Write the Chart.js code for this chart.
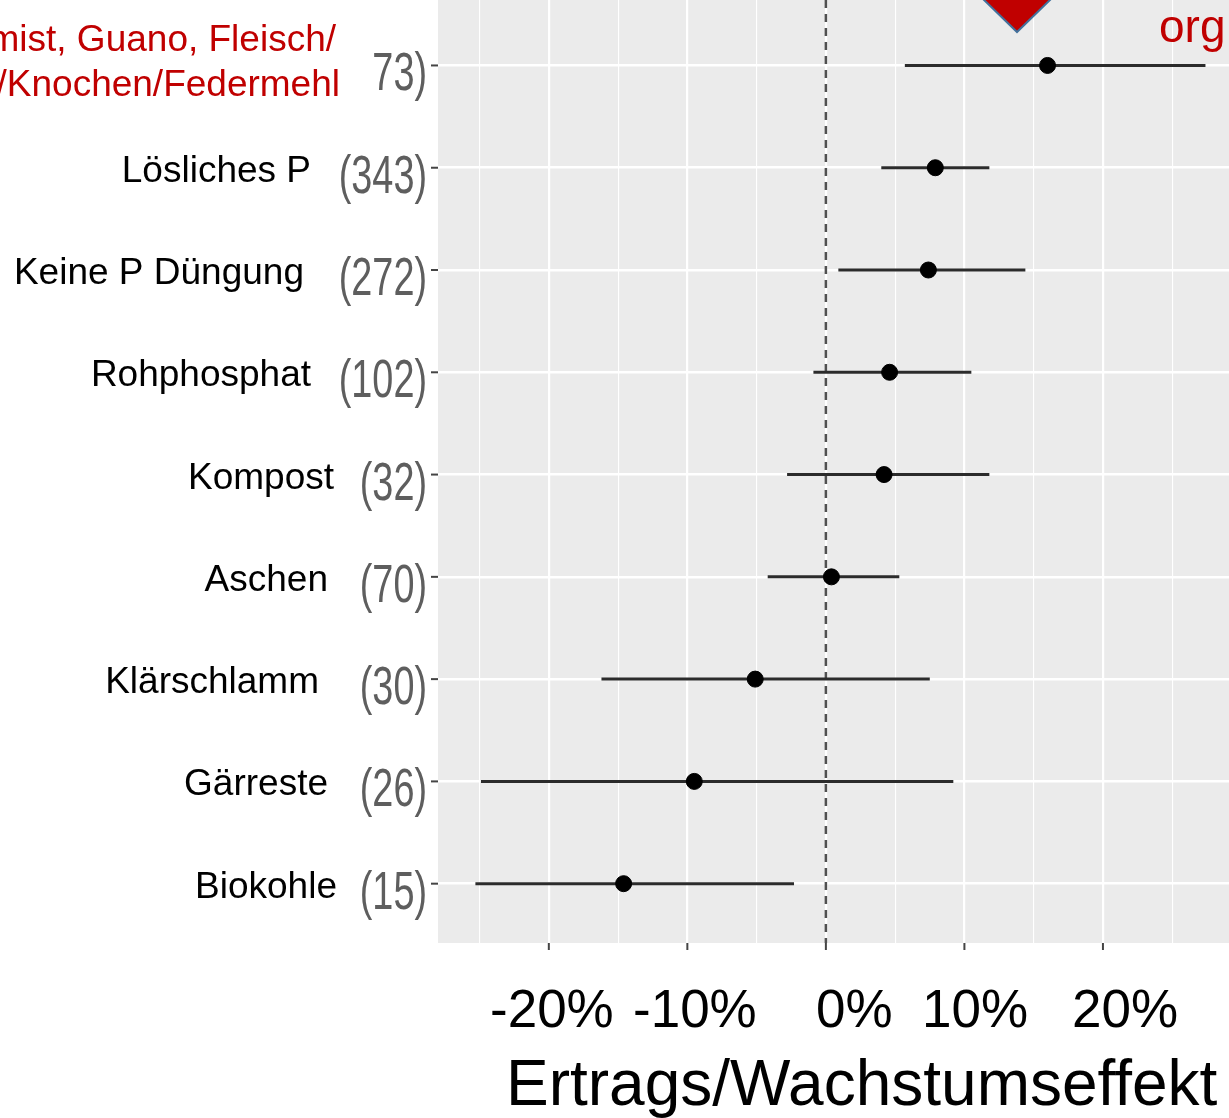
<!DOCTYPE html>
<html>
<head>
<meta charset="utf-8">
<script src="https://cdn.jsdelivr.net/npm/chart.js@4"></script>
<style>
    html, body { margin: 0; padding: 0; background: #fff; }
    #wrap { width: 1229px; height: 1118px; }
</style>
</head>
<body>
<div id="wrap"><canvas id="forest" width="1229" height="1118"></canvas></div>
<script>
// data (effect in %)
const categories = [['mist, Guano, Fleisch/', '/Knochen/Federmehl'], 'Lösliches P', 'Keine P Düngung', 'Rohphosphat', 'Kompost', 'Aschen', 'Klärschlamm', 'Gärreste', 'Biokohle'];
const counts = ['73)', '(343)', '(272)', '(102)', '(32)', '(70)', '(30)', '(26)', '(15)'];
const effect = [16.0, 7.9, 7.4, 4.6, 4.2, 0.4, -5.1, -9.5, -14.6];
const lower = [5.7, 4.0, 0.9, -0.9, -2.8, -4.2, -16.2, -24.9, -25.3];
const upper = [27.4, 11.8, 14.4, 10.5, 11.8, 5.3, 7.5, 9.2, -2.3];
const tickLabels = ['-20%', '-10%', '0%', '10%', '20%'];

// where the overlaid texts sit (right edge of names, left edge of tick labels)
const nameRight = [338, 311, 304, 311, 334, 328, 319, 328, 337];
const tickLabelX = [490, 633, 816, 922, 1072];

const ctx = document.getElementById('forest').getContext('2d');

// CI lines, one dataset per row
const ciSets = categories.map((c, i) => ({
    type: 'line',
    data: [{ x: lower[i], y: i + 1 }, { x: upper[i], y: i + 1 }],
    borderColor: '#2b2b2b',
    borderWidth: 3,
    pointRadius: 0,
    order: 1
}));

const panelBg = {
    id: 'panelBg',
    beforeDraw(chart) {
        const a = chart.chartArea;
        const c = chart.ctx;
        c.save();
        c.fillStyle = '#ebebeb';
        c.fillRect(a.left, a.top, a.right - a.left, a.bottom - a.top);
        c.restore();
    }
};

const overlay = {
    id: 'overlay',
    afterDraw(chart) {
        const c = chart.ctx;
        const xs = chart.scales.x;
        const ys = chart.scales.y;
        const a = chart.chartArea;
        c.save();

        // axis tick marks
        c.strokeStyle = '#444';
        c.lineWidth = 2;
        [-20, -10, 0, 10, 20].forEach(v => {
            const px = xs.getPixelForValue(v);
            c.beginPath(); c.moveTo(px, a.bottom); c.lineTo(px, a.bottom + 7); c.stroke();
        });
        categories.forEach((cat, i) => {
            const py = ys.getPixelForValue(i + 1);
            c.beginPath(); c.moveTo(a.left - 7, py); c.lineTo(a.left, py); c.stroke();
        });

        // counts in grey condensed text
        c.fillStyle = '#5e5e5e';
        c.textAlign = 'right';
        c.textBaseline = 'alphabetic';
        c.font = '54px "Liberation Sans", Arial, sans-serif';
        counts.forEach((t, i) => {
            const py = ys.getPixelForValue(i + 1);
            c.save();
            c.translate(427, py + 25);
            c.scale(0.7, 1);
            c.fillText(t, 0, 0);
            c.restore();
        });

        // category names
        c.font = '37px "Liberation Sans", Arial, sans-serif';
        categories.forEach((cat, i) => {
            const py = ys.getPixelForValue(i + 1);
            if (Array.isArray(cat)) {
                c.fillStyle = '#fff';
                c.fillRect(0, 10, 360, 95);
                c.fillStyle = '#c00000';
                c.fillText(cat[0], 336, 51);
                c.fillText(cat[1], 340, 96);
            } else {
                c.fillStyle = '#000';
                c.fillText(cat, nameRight[i], py + 14);
            }
        });

        // red marker and text at the top
        c.beginPath();
        c.moveTo(982, -2);
        c.lineTo(1052, -2);
        c.lineTo(1017, 32);
        c.closePath();
        c.fillStyle = '#c00000';
        c.fill();
        c.strokeStyle = '#41719c';
        c.lineWidth = 2;
        c.stroke();
        c.fillStyle = '#c00000';
        c.textAlign = 'left';
        c.font = '46px "Liberation Sans", Arial, sans-serif';
        c.fillText('org', 1159, 42);

        // tick labels and axis title
        c.fillStyle = '#000';
        c.font = '53px "Liberation Sans", Arial, sans-serif';
        tickLabels.forEach((t, i) => c.fillText(t, tickLabelX[i], 1027));
        c.font = '64px "Liberation Sans", Arial, sans-serif';
        c.fillText('Ertrags/Wachstumseffekt', 506, 1105);

        c.restore();
    }
};

new Chart(ctx, {
    type: 'scatter',
    data: {
        datasets: [
            {
                type: 'scatter',
                data: effect.map((v, i) => ({ x: v, y: i + 1 })),
                backgroundColor: '#000',
                borderColor: '#000',
                pointRadius: 8,
                order: 0
            },
            ...ciSets,
            {
                type: 'line',
                data: [{ x: 0, y: 0.36 }, { x: 0, y: 9.58 }],
                borderColor: '#505050',
                borderWidth: 2.5,
                borderDash: [8, 6],
                pointRadius: 0,
                order: 2
            }
        ]
    },
    options: {
        responsive: false,
        devicePixelRatio: 1,
        animation: false,
        layout: { autoPadding: false, padding: { left: 438, right: 0, top: 0, bottom: 175 } },
        plugins: { legend: { display: false }, tooltip: { enabled: false } },
        scales: {
            x: {
                type: 'linear',
                min: -28,
                max: 29.1,
                afterBuildTicks: scale => {
                    scale.ticks = scale.ticks.filter(t => t.value % 5 === 0);
                },
                ticks: { display: false, stepSize: 5 },
                border: { display: false },
                grid: {
                    color: '#ffffff',
                    drawTicks: false,
                    lineWidth: c => (c.tick && c.tick.value % 10 === 0) ? 2.2 : 1.1
                }
            },
            y: {
                type: 'linear',
                min: 0.36,
                max: 9.58,
                reverse: true,
                afterBuildTicks: scale => {
                    scale.ticks = categories.map((c, i) => ({ value: i + 1 }));
                },
                ticks: { display: false },
                border: { display: false },
                grid: { color: '#ffffff', drawTicks: false, lineWidth: 2.5 }
            }
        }
    },
    plugins: [panelBg, overlay]
});
</script>
</body>
</html>
